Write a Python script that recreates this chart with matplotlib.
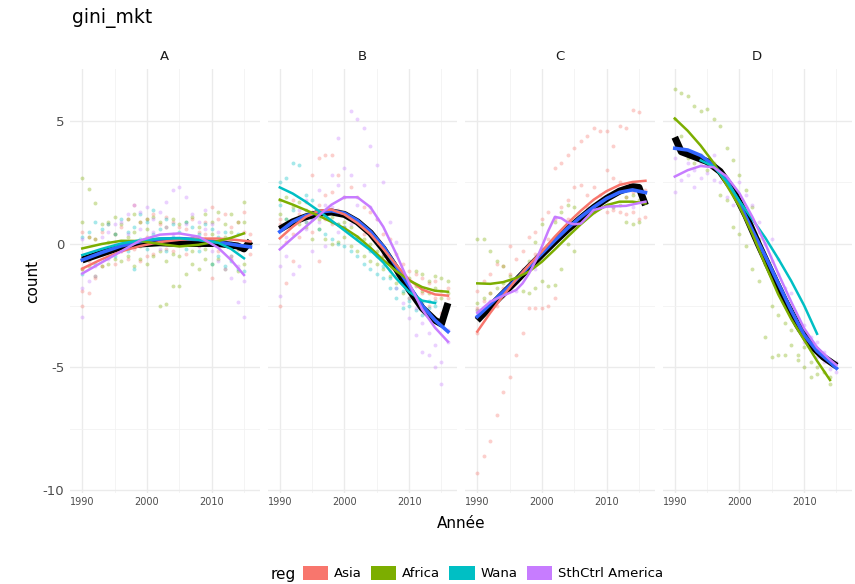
import matplotlib.pyplot as plt
from matplotlib.patches import Patch

plt.rcParams["axes.unicode_minus"] = False

regions = ["Asia", "Africa", "Wana", "SthCtrl America"]
reg_colors = ["#F8766D", "#7CAE00", "#00BFC4", "#C77CFF"]
panels = ["A", "B", "C", "D"]

# scatter points: one list of values per year, starting 1990
pts_A_asia = [[0.5, -1.0, -2.5, -1.9], [0.3, -2.0, -0.7], [0.2, -1.4], [0.5, -0.9], [0.8, -0.5],
              [0.4, -0.8], [0.7, -0.3], [1.0, -0.6], [1.6, -0.2], [0.9, -0.7], [1.0, 0.3, -0.5],
              [1.2, -0.4], [0.8, 0.1], [1.1, -0.2], [0.9, -0.3], [0.7, 0.2], [0.6, -0.4], [1.0, 0.3],
              [0.5, -0.1], [0.9, 0.4], [1.5, 0.2, -1.4], [1.0, -0.3], [1.2, 0.1], [0.7, -0.6],
              [0.9, -0.2], [1.3, 0.5], [-0.4, 0.4]]
pts_A_africa = [[2.7, 0.9, -0.6, -1.0], [2.25, 0.3, -0.9], [1.65, 0.2, -1.3], [0.8, -0.4, -0.9],
                [0.9, 0.1, -0.8], [1.1, 0.4, -0.6], [0.8, -0.2, -0.7], [1.0, 0.3, -0.5],
                [1.2, 0.5, -0.9], [0.9, -0.1, -0.6], [1.0, 0.6, -0.8], [1.1, 0.2, -0.5],
                [0.9, -0.3, -2.5], [0.7, -0.7, -2.45], [1.0, -0.4, -1.7], [0.8, -0.5, -1.7],
                [0.9, 0.0, -1.2], [1.1, -0.3, -0.8], [0.7, 0.2, -1.0], [1.2, -0.2, -0.6],
                [0.9, 0.4, -0.8], [1.3, -0.1, -0.6], [0.8, 0.3, -1.0], [1.2, 0.5, -0.5],
                [0.9, -0.2, -1.1], [1.7, 0.9, -0.8]]
pts_A_wana = [[0.3, -1.2], [0.5, -0.6], [0.9, -0.8], [0.6, -0.3], [0.8, -0.2], [0.4, -0.5],
              [1.0, 0.0], [0.5, -0.3], [0.7, -1.0], [1.2, 0.2], [0.9, -0.2], [1.4, 0.4], [0.6, 0.1],
              [1.0, -0.3], [0.8, 0.3], [0.5, 0.0], [0.9, -0.2], [0.7, 0.1], [0.4, -0.3], [0.8, 0.2],
              [0.6, -0.8], [0.3, -0.5], [0.5, -0.9], [0.2, -0.7], [0.4, -1.0], [-0.2, -1.1]]
pts_A_sca = [[-1.8, -2.95, 0.2], [-1.5, -0.5], [-0.9, -1.3], [-0.4, 0.3], [0.5, -0.6], [0.8, 0.1],
             [0.9, -0.3], [1.2, 0.4], [1.6, 0.1], [1.3, 0.6], [1.5, 0.2], [1.0, 0.5], [1.3, -0.2],
             [1.7, 0.7], [2.2, 0.4], [2.3, 0.0], [1.9, 0.8], [1.2, 0.3], [0.9, -0.1], [1.4, 0.6],
             [0.8, -0.3], [0.5, -0.7], [0.2, -1.0], [-0.5, -1.4], [-2.35, -0.9], [-2.95, -1.5]]

pts_B_asia = [[0.8, -2.5, 1.0], [0.1, -1.6], [1.8, 0.4, -0.7], [1.2, 0.3], [1.7, 0.9],
              [2.8, 1.3, 0.5], [3.5, 1.6, -0.7], [3.6, 2.0, 1.0], [3.6, 2.1, 0.8], [2.8, 1.4],
              [1.9, 0.7], [2.3, 1.1], [1.9, 0.3], [1.5, 0.4], [1.3, -0.2], [1.0, 0.1], [0.4, -0.5],
              [0.2, -1.0], [-0.4, -1.3], [-0.8, -1.6], [-1.1, -1.9], [-1.2, -2.2], [-1.4, -2.0],
              [-1.6, -2.5], [-1.5, -2.2], [-1.9, -2.8], [-1.8, -2.2]]
pts_B_africa = [[1.8, 1.2], [1.9, 1.0], [1.5, 0.9], [1.7, 0.8], [1.4, 0.7], [1.2, 0.2], [1.0, 0.6],
                [1.3, 0.2], [1.1, 0.0], [0.8, 0.1], [0.9, 0.3], [0.7, -0.1], [0.3, -0.3],
                [0.2, -0.5], [0.0, -0.7], [-0.3, -0.8], [-0.5, -1.0], [-0.7, -1.3], [-1.0, -1.6],
                [-1.2, -2.0], [-1.4, -2.2], [-1.1, -1.7], [-1.2, -1.9], [-1.5, -2.0], [-1.3, -1.8],
                [-1.4, -2.2], [-1.5, -2.0]]
pts_B_wana = [[2.5, 1.6], [2.7, 1.0], [3.3, 1.4], [3.2, 1.1], [2.0, 0.9], [1.8, 1.0], [1.2, 0.6],
              [1.1, 0.4], [0.9, 0.2], [0.8, 0.0], [0.7, -0.1], [0.4, -0.3], [0.2, -0.5], [0.0, -0.8],
              [-0.3, -1.0], [-0.5, -1.2], [-0.9, -1.4], [-1.4, -1.8], [-1.8, -2.2], [-1.9, -2.6],
              [-2.3, -2.5], [-2.2, -2.7], [-2.4, -2.9], [-2.3, -2.6], [-2.5, -2.3]]
pts_B_sca = [[0.7, -0.9, -2.1], [0.3, -0.5], [-1.2, 0.9], [-0.9, 1.4], [0.6, 1.8], [-0.3, 1.0],
             [2.2, 0.9], [1.6, -0.1], [2.8, 1.5], [4.3, 2.4, 0.5], [3.1, 1.9], [5.4, 2.8, 0.8],
             [5.1, 1.6], [4.7, 2.4], [4.0, 1.5, -0.2], [3.2, 1.0], [2.5, -0.4], [0.9, -1.1],
             [0.1, -1.8], [-1.2, -2.4], [-2.2, -3.0], [-3.7, -2.6], [-4.4, -3.2], [-4.5, -3.6],
             [-5.0, -4.1], [-5.7, -4.8, -3.3], [-4.0, -3.5]]

pts_C_asia = [[-9.3, -3.6, -2.6, -1.9], [-8.6, -2.3, -1.5], [-8.0, -2.0, -1.2], [-6.95, -2.5, -0.8],
              [-6.0, -1.8, -0.9], [-5.4, -0.1, -1.2], [-4.5, -0.6, -1.5], [-3.6, -0.3, -1.0],
              [-2.6, 0.3, -0.8], [-2.6, 0.5, -0.4], [-2.6, 1.0, -0.2], [-2.5, 1.3, 0.2],
              [3.1, -2.2, 1.0], [3.3, 1.5, 0.4], [3.6, 1.8, 1.0], [3.9, 2.3, 0.7], [4.2, 2.4, 1.1],
              [4.4, 2.0, 1.5], [4.7, 2.3, 1.3], [4.6, 2.0, 1.6], [4.6, 3.0, 1.3], [4.0, 2.7, 1.4],
              [4.8, 2.5, 1.3], [4.7, 1.9, 1.2], [5.45, 2.1, 1.3], [5.35, 2.3, 1.0], [1.1, 2.2]]
pts_C_africa = [[0.2, -2.4, -2.7], [0.2, -2.2], [-0.3, -2.0], [-0.7, -1.8], [-0.9, -1.6],
                [-1.3, -1.5], [-1.5], [-1.9], [-2.0, -0.7], [-1.8, 0.1], [-1.5, 0.8], [-1.7],
                [-1.65, 0.9], [-1.0, 1.3], [0.0, 1.6], [-0.3, 1.5], [1.0], [1.4], [1.6], [1.7],
                [1.8], [1.5, 2.0], [1.6, 2.1], [0.9, 1.9], [0.8, 2.0], [0.9, 1.8]]
pts_C_wana = []
pts_C_sca = [[-2.7], [], [-2.3], [], [-2.1], [], [-1.9], [], [], [-1.0], [], [], [1.1], [], [],
             [0.8], [], [], [1.4], [], [], [1.5], [], [], [1.5]]

pts_D_asia = []
pts_D_africa = [[6.3, 5.1], [6.15, 4.4], [6.0, 3.5], [5.6, 3.3], [5.4, 3.6], [5.5, 3.0], [5.1, 3.3],
                [4.8, 2.0], [3.9, 1.8], [3.4, 0.7], [2.8, 0.4], [2.2, -0.1], [1.5, -1.0],
                [0.2, -1.5], [-0.8, -3.8], [-2.5, -4.6], [-2.9, -4.5], [-3.2, -4.5], [-4.1, -3.5],
                [-4.5, -4.7], [-5.0, -4.2], [-5.4, -4.8], [-5.0, -5.3], [-5.2], [-5.7, -5.4]]
pts_D_wana = []
pts_D_sca = [[2.1, 3.5], [2.6, 3.8], [2.8, 3.3], [2.3, 3.0], [3.3, 2.7], [2.9, 3.4], [2.6, 3.6],
             [3.0, 2.5], [2.7, 1.9], [2.2, 1.6], [1.8, 2.5], [1.5, 2.0], [1.0, 1.6], [0.5, 0.9],
             [0.0, -0.5], [-0.7, 0.2], [-1.2, -0.6], [-1.8, -2.3], [-2.6, -2.0], [-3.0, -3.5],
             [-3.3, -4.0], [-3.8, -4.3], [-4.0, -4.6], [-4.4, -4.8], [-4.7, -5.1], [-4.8, -5.2]]

points = {
    "A": [pts_A_asia, pts_A_africa, pts_A_wana, pts_A_sca],
    "B": [pts_B_asia, pts_B_africa, pts_B_wana, pts_B_sca],
    "C": [pts_C_asia, pts_C_africa, pts_C_wana, pts_C_sca],
    "D": [pts_D_asia, pts_D_africa, pts_D_wana, pts_D_sca],
}

# smoothed curves (year, value)
yr3 = [1990, 1993, 1996, 1999, 2002, 2005, 2008, 2011, 2014, 2016]
yr3b = [1990, 1993, 1996, 1999, 2002, 2005, 2008, 2011, 2013, 2015]
lines_A = {
    "Asia": (yr3, [-1.0, -0.62, -0.3, -0.08, 0.08, 0.17, 0.22, 0.22, 0.16, 0.1]),
    "Africa": (yr3b, [-0.18, 0.0, 0.13, 0.12, 0.0, -0.1, -0.03, 0.12, 0.25, 0.43]),
    "Wana": (yr3b, [-0.45, -0.2, 0.02, 0.15, 0.22, 0.23, 0.17, 0.05, -0.2, -0.58]),
    "SthCtrl America": (yr3b, [-1.2, -0.75, -0.3, 0.15, 0.38, 0.43, 0.3, -0.15, -0.65, -1.26]),
}
blue_A = (yr3, [-0.65, -0.35, -0.08, 0.1, 0.2, 0.22, 0.18, 0.08, -0.05, -0.12])
black_A = ([1990, 1993, 1996, 1999, 2002, 2005, 2008, 2011, 2014, 2015, 2016],
           [-0.65, -0.38, -0.12, 0.0, 0.05, 0.02, 0.02, 0.02, -0.08, -0.2, 0.12])

yr2 = list(range(1990, 2017, 2))
lines_B = {
    "Asia": (yr2, [0.23, 0.7, 1.1, 1.35, 1.4, 1.2, 0.85, 0.4, -0.2, -0.85, -1.45, -1.85, -2.05, -2.1]),
    "Africa": (yr2, [1.8, 1.6, 1.38, 1.15, 0.9, 0.64, 0.3, -0.15, -0.65, -1.1, -1.48, -1.75, -1.9, -1.94]),
    "Wana": (yr2[:-1], [2.3, 2.05, 1.72, 1.35, 0.95, 0.55, 0.15, -0.25, -0.75, -1.4, -1.95, -2.3, -2.4]),
    "SthCtrl America": (yr2, [-0.22, 0.25, 0.7, 1.15, 1.6, 1.9, 1.9, 1.5, 0.7, -0.4, -1.6, -2.65, -3.4, -3.97]),
}
blue_B = (yr2, [0.5, 0.9, 1.15, 1.3, 1.35, 1.25, 0.95, 0.5, -0.1, -0.9, -1.7, -2.5, -3.1, -3.56])
black_B = (yr2[:-1] + [2015, 2016],
           [0.6, 0.9, 1.1, 1.25, 1.3, 1.2, 0.9, 0.45, -0.2, -1.0, -1.85, -2.6, -3.1, -3.25, -2.4])

lines_C = {
    "Asia": (yr2, [-3.56, -2.8, -2.1, -1.45, -0.85, -0.3, 0.3, 0.85, 1.35, 1.8, 2.15, 2.4, 2.52, 2.57]),
    "Africa": (yr2, [-1.6, -1.62, -1.55, -1.38, -1.12, -0.72, -0.22, 0.3, 0.8, 1.25, 1.58, 1.72, 1.72, 1.65]),
    "SthCtrl America": ([1990, 1992, 1994, 1996, 1997, 1998, 1999, 2000, 2001, 2002, 2003, 2004, 2005,
                         2006, 2007, 2008, 2010, 2013, 2016],
                        [-2.8, -2.35, -2.1, -1.87, -1.6, -1.2, -0.7, -0.1, 0.55, 1.1, 1.05, 0.87, 0.8,
                         0.83, 1.1, 1.38, 1.52, 1.55, 1.72]),
}
blue_C = (yr2, [-2.95, -2.45, -1.95, -1.45, -0.9, -0.38, 0.15, 0.65, 1.1, 1.5, 1.85, 2.1, 2.2, 2.09])
black_C = (yr2[:-1] + [2015, 2016],
           [-3.1, -2.55, -2.02, -1.5, -0.95, -0.42, 0.1, 0.6, 1.05, 1.48, 1.85, 2.15, 2.33, 2.3, 1.58])

lines_D = {
    "Africa": (yr2[:-1], [5.1, 4.6, 4.0, 3.3, 2.4, 1.52, 0.4, -0.85, -2.05, -3.05, -3.9, -4.75, -5.53]),
    "Wana": ([1994, 1996, 1998, 2000, 2002, 2004, 2006, 2008, 2010, 2012],
             [3.4, 3.15, 2.55, 1.75, 1.0, 0.25, -0.6, -1.5, -2.5, -3.65]),
    "SthCtrl America": (yr2[:-1] + [2015],
                        [2.74, 3.0, 3.17, 3.12, 2.75, 2.06, 1.1, 0.0, -1.2, -2.35, -3.43, -4.2, -4.7, -4.92]),
}
blue_D = (yr2[:-1] + [2015], [3.89, 3.82, 3.6, 3.2, 2.6, 1.65, 0.55, -0.5, -1.6, -2.7, -3.7, -4.35, -4.8, -5.05])
black_D = ([1990, 1991, 1993, 1995, 1997, 1999, 2001, 2003, 2005, 2007, 2009, 2011, 2013, 2015],
           [4.34, 3.75, 3.55, 3.35, 2.95, 2.2, 1.15, -0.05, -1.19, -2.3, -3.3, -4.1, -4.6, -4.96])

lines = {"A": lines_A, "B": lines_B, "C": lines_C, "D": lines_D}
blues = {"A": blue_A, "B": blue_B, "C": blue_C, "D": blue_D}
blacks = {"A": black_A, "B": black_B, "C": black_C, "D": black_D}

fig = plt.figure(figsize=(8.55, 5.84), dpi=100)
W, H = 855, 584
left, right, gap = 70, 852, 8
pw = (right - left - 3 * gap) / 4
bottom_px, top_px = 492.5, 69.3

for i, p in enumerate(panels):
    x0 = left + i * (pw + gap)
    ax = fig.add_axes([x0 / W, 1 - bottom_px / H, pw / W, (bottom_px - top_px) / H])
    ax.set_xlim(1988.1, 2017.4)
    ax.set_ylim(-10.1, 7.1)
    ax.set_xticks([1990, 2000, 2010])
    ax.set_xticks([1995, 2005, 2015], minor=True)
    ax.set_yticks([5, 0, -5, -10])
    ax.set_yticks([2.5, -2.5, -7.5], minor=True)
    ax.grid(which="major", color="#EBEBEB", lw=1.0)
    ax.grid(which="minor", color="#F2F2F2", lw=0.6)
    ax.set_axisbelow(True)
    for s in ax.spines.values():
        s.set_visible(False)
    ax.tick_params(which="both", length=0)
    ax.tick_params(axis="x", labelsize=7, labelcolor="#4D4D4D", pad=3)
    ax.tick_params(axis="y", labelsize=9.5, labelcolor="#4D4D4D", pad=4)
    if i > 0:
        ax.set_yticklabels([])

    for reg, col, pts in zip(regions, reg_colors, points[p]):
        xs, ys = [], []
        for k, vals in enumerate(pts):
            for v in vals:
                xs.append(1990 + k)
                ys.append(v)
        if xs:
            ax.scatter(xs, ys, s=8, color=col, alpha=0.35, linewidths=0)

    bx, by = blacks[p]
    ax.plot(bx, by, color="black", lw=5, solid_capstyle="butt")
    ux, uy = blues[p]
    ax.plot(ux, uy, color="#3366FF", lw=2.6)
    for reg, col in zip(regions, reg_colors):
        if reg in lines[p]:
            lx, ly = lines[p][reg]
            ax.plot(lx, ly, color=col, lw=1.8)

    ax.text(0.5, 1.031, p, transform=ax.transAxes, ha="center", va="center",
            fontsize=9.5, color="#1A1A1A")

fig.text(72 / W, 1 - 18 / H, "gini_mkt", fontsize=13.5, ha="left", va="center")
fig.text(33 / W, 1 - 281 / H, "count", fontsize=11, rotation=90, ha="center", va="center")
fig.text(461 / W, 1 - 523 / H, "Année", fontsize=11, ha="center", va="center")

fig.text(283 / W, 1 - 574 / H, "reg", fontsize=11, ha="center", va="center")
handles = [Patch(facecolor=c, edgecolor="none", label=r) for r, c in zip(regions, reg_colors)]
fig.legend(handles=handles, loc="center left", bbox_to_anchor=(303 / W, 1 - 573 / H), ncol=4,
           frameon=False, fontsize=9.5, handlelength=1.9, handleheight=1.25,
           columnspacing=0.7, handletextpad=0.45, borderpad=0, borderaxespad=0)

fig.savefig("out.png", dpi=100)
